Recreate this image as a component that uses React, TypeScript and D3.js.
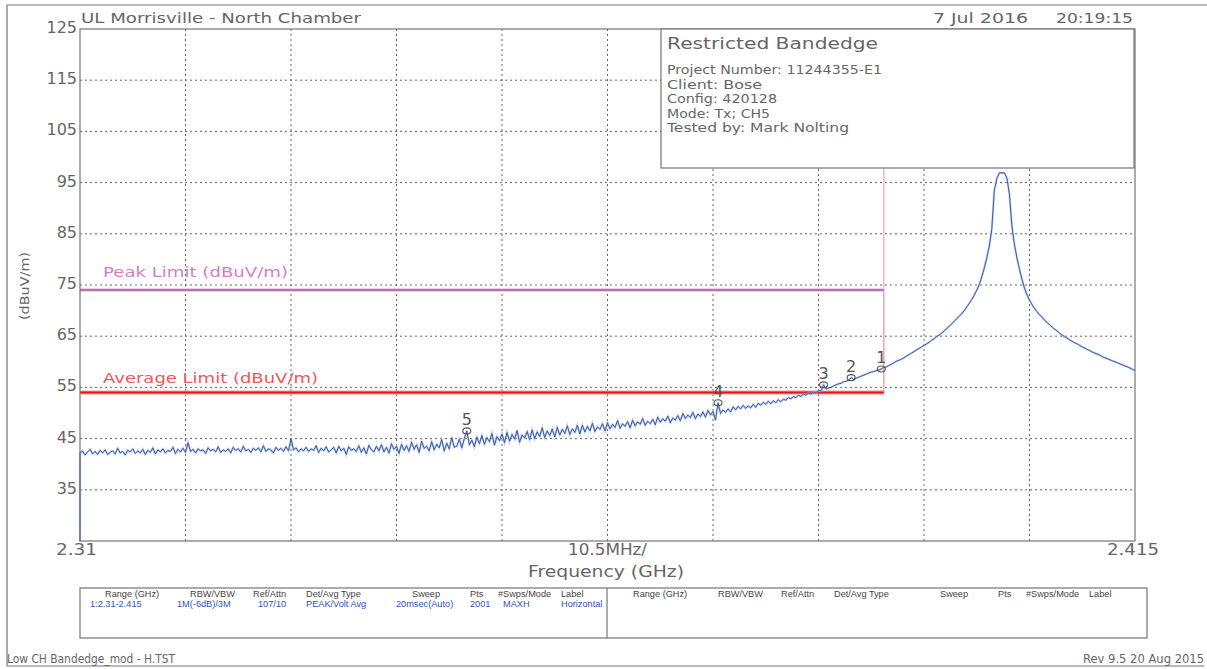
import React from "react";
import * as d3 from "d3";

// ---- Sweep data (MHz / dBuV/m) ----
const sweepStartMHz = 2310;
const sweepStopMHz = 2415;
const sweepStepMHz = 0.25;
const sweepStartLevel = 25; // first sample of the sweep sits at the floor
const traceLevels = [
  42.1, 42.6, 41.8, 42.4, 42.9, 42.0, 42.5, 41.9, 42.7, 42.2,
  42.8, 41.9, 42.3, 42.6, 42.0, 43.1, 42.2, 42.5, 41.8, 42.7,
  42.4, 43.0, 42.1, 42.6, 42.2, 42.9, 41.9, 42.7, 42.3, 43.2,
  42.0, 42.8, 42.4, 43.0, 42.2, 42.7, 42.5, 43.3, 42.1, 42.9,
  42.4, 43.1, 42.3, 44.2, 42.5, 42.9, 42.2, 43.0, 42.6, 42.8,
  42.1, 43.2, 42.6, 42.9, 42.4, 43.4, 42.3, 42.8, 42.5, 43.0,
  42.2, 43.3, 42.7, 43.0, 42.4, 43.5, 42.6, 42.9, 42.3, 43.1,
  42.7, 43.2, 42.4, 43.6, 42.5, 43.0, 42.8, 42.2, 43.3, 42.7,
  43.1, 42.5, 43.4, 42.6, 45.0, 42.8, 43.2, 42.4, 43.0, 42.6,
  43.3, 42.5, 43.0, 42.7, 43.6, 42.3, 43.1, 42.6, 43.4, 42.4,
  42.8, 43.3, 42.2, 43.5, 42.6, 43.1, 41.9, 43.4, 42.7, 43.0,
  42.5, 43.6, 42.3, 43.2, 42.0, 43.7, 42.8, 42.4, 43.5, 42.6,
  43.8, 42.4, 43.3, 42.2, 44.0, 42.9, 43.5, 42.1, 43.9, 42.7,
  43.6, 42.5, 44.3, 42.9, 43.8, 42.3, 44.5, 43.1, 43.5, 42.6,
  44.4, 42.8, 43.9, 43.2, 44.8, 42.6, 44.1, 43.0, 45.2, 43.3,
  43.5, 44.9, 43.2, 45.0, 46.5, 43.8, 44.7, 43.4, 45.3, 44.0,
  45.6, 43.9, 45.2, 44.4, 46.0, 43.7, 45.4, 44.6, 45.9, 44.2,
  46.2, 44.5, 45.8, 44.9, 46.6, 44.3, 45.7, 45.1, 46.4, 44.8,
  46.7, 45.0, 46.3, 45.4, 47.1, 45.2, 46.5, 45.6, 46.9, 45.3,
  47.2, 45.7, 46.8, 46.0, 47.5, 45.8, 46.9, 46.2, 47.6, 45.9,
  47.6, 46.3, 47.4, 46.5, 48.0, 46.4, 47.3, 46.8, 47.9, 46.5,
  48.1, 46.9, 47.8, 47.2, 48.5, 47.0, 47.9, 47.4, 48.3, 47.1,
  48.6, 47.5, 48.3, 47.8, 48.9, 47.6, 48.4, 47.9, 48.8, 47.7,
  49.2, 48.2, 48.9, 48.4, 49.4, 48.1, 49.0, 48.6, 49.5, 48.5,
  49.9, 48.9, 49.6, 49.1, 50.1, 48.9, 49.8, 49.3, 50.2, 49.2,
  50.5, 49.6, 50.3, 48.6, 52.0, 49.9, 50.6, 50.1, 50.8, 50.2,
  51.2, 50.6, 51.3, 50.8, 51.5, 50.9, 51.4, 51.0, 51.7, 51.1,
  51.9, 51.5, 52.1, 51.7, 52.3, 51.8, 52.4, 52.0, 52.6, 52.2,
  52.7, 52.5, 53.0, 52.8, 53.2, 53.0, 53.5, 53.2, 53.7, 53.5,
  53.9, 53.7, 54.1, 54.0, 54.4, 54.3, 55.5, 54.7, 54.9, 55.0,
  55.3, 55.5, 55.7, 55.8, 56.1, 56.2, 56.4, 56.9, 56.6, 56.8,
  57.0, 57.2, 57.4, 57.6, 57.8, 58.0, 58.1, 58.3, 58.4, 58.6,
  58.9, 59.0, 59.3, 59.5, 59.8, 60.1, 60.3, 60.5, 60.8, 61.1,
  61.4, 61.7, 62.0, 62.3, 62.6, 62.9, 63.2, 63.5, 63.8, 64.2,
  64.5, 64.9, 65.2, 65.6, 66.0, 66.5, 66.9, 67.4, 67.9, 68.4,
  68.9, 69.4, 70.0, 70.7, 71.4, 72.2, 73.0, 74.0, 75.1, 76.6,
  78.3, 80.3, 82.6, 86.0, 93.5, 95.8, 96.9, 96.9, 96.9, 95.9,
  92.8, 86.5, 82.9, 80.3, 78.1, 76.1, 74.4, 73.1, 72.0, 71.2,
  70.4, 69.8, 69.2, 68.7, 68.1, 67.7, 67.2, 66.8, 66.4, 66.0,
  65.6, 65.2, 64.9, 64.6, 64.3, 64.0, 63.7, 63.5, 63.2, 62.9,
  62.7, 62.4, 62.2, 61.9, 61.7, 61.5, 61.3, 61.0, 60.8, 60.6,
  60.4, 60.2, 60.0, 59.8, 59.6, 59.4, 59.2, 59.0, 58.8, 58.5,
  58.3,
];

// ---- Markers ----
const markerIds = ["1", "2", "3", "4", "5"];
const markerFreqsMHz = [2389.75, 2386.75, 2384.0, 2373.5, 2348.5];
const markerLevels = [58.6, 56.9, 55.5, 52.0, 46.5];

// ---- Limits ----
const bandEdgeMHz = 2390;
const peakLimit = 74;
const averageLimit = 54;
const peakLimitLabel = "Peak Limit (dBuV/m)";
const averageLimitLabel = "Average Limit (dBuV/m)";

// ---- Axes ----
const yMin = 25;
const yMax = 125;
const yTickLabels = [125, 115, 105, 95, 85, 75, 65, 55, 45, 35];
const xDivisions = 10;
const xStartLabel = "2.31";
const xStopLabel = "2.415";
const xSpanLabel = "10.5MHz/";
const xAxisTitle = "Frequency (GHz)";
const yAxisTitle = "(dBuV/m)";

// ---- Header / info / footer text ----
const siteTitle = "UL Morrisville - North Chamber";
const runDate = "7 Jul 2016";
const runTime = "20:19:15";
const infoTitle = "Restricted Bandedge";
const infoLines = [
  "Project Number: 11244355-E1",
  "Client: Bose",
  "Config: 420128",
  "Mode: Tx; CH5",
  "Tested by: Mark Nolting",
];
const tableHeaders = ["Range (GHz)", "RBW/VBW", "Ref/Attn", "Det/Avg Type", "Sweep", "Pts", "#Swps/Mode", "Label"];
const tableValues = ["1:2.31-2.415", "1M(-6dB)/3M", "107/10", "PEAK/Volt Avg", "20msec(Auto)", "2001", "MAXH", "Horizontal"];
const footerLeft = "Low CH Bandedge_mod - H.TST";
const footerRight = "Rev 9.5 20 Aug 2015";

// ---- Layout ----
const W = 1207;
const H = 669;
const plot = { left: 80, right: 1135, top: 29, bottom: 541 };
const FONT = "'DejaVu Sans', sans-serif";
const INK = "#666";
const FRAME = "#757575";
const TRACE = "#2d4f9e";
const TABLE_FONT = "'Liberation Sans', sans-serif";

const headerCols = [105, 190, 253, 306, 412, 470, 498, 561];
const valueCols = [90, 177, 258, 306, 396, 470, 503, 561];
const tableRightShift = 528;
const infoLineLengths = [215, 95, 110, 103, 182];

export default function App() {
  const x = d3.scaleLinear().domain([sweepStartMHz, sweepStopMHz]).range([plot.left, plot.right]);
  const y = d3.scaleLinear().domain([yMin, yMax]).range([plot.bottom, plot.top]);

  const points: [number, number][] = [[sweepStartMHz, sweepStartLevel]];
  traceLevels.forEach((v, i) => points.push([sweepStartMHz + i * sweepStepMHz, v]));
  const line = d3
    .line<[number, number]>()
    .x((d) => x(d[0]))
    .y((d) => y(Math.max(yMin, d[1])));
  const tracePath = line(points) || "";

  const xStep = (sweepStopMHz - sweepStartMHz) / xDivisions;
  const xGrid = d3.range(1, xDivisions).map((i) => sweepStartMHz + i * xStep);
  const yGrid = yTickLabels.filter((v) => v !== yMax);

  const xe = x(bandEdgeMHz);

  return (
    <svg
      width={W}
      height={H}
      viewBox={`0 0 ${W} ${H}`}
      style={{ position: "absolute", left: 0, top: 0, background: "#fff" }}
      fontFamily={FONT}
    >
      <rect x={0} y={0} width={W} height={H} fill="#fff" />
      {/* page frame */}
      <path d={`M7,666 V5 H1207 M7,666 H1204`} fill="none" stroke={FRAME} strokeWidth={1.2} />

      {/* header */}
      <text x={81} y={22.5} fontSize={14} fill={INK} textLength={280} lengthAdjust="spacingAndGlyphs">
        {siteTitle}
      </text>
      <text x={933} y={22.5} fontSize={14} fill={INK} textLength={95} lengthAdjust="spacingAndGlyphs">
        {runDate}
      </text>
      <text x={1056} y={22.5} fontSize={14} fill={INK} textLength={77} lengthAdjust="spacingAndGlyphs">
        {runTime}
      </text>

      {/* grid */}
      <g stroke="#666" strokeWidth={1} strokeDasharray="2,3">
        {xGrid.map((f) => (
          <line key={`gx${f}`} x1={x(f)} x2={x(f)} y1={plot.top} y2={plot.bottom} />
        ))}
        {yGrid.map((v) => (
          <line key={`gy${v}`} x1={plot.left} x2={plot.right} y1={y(v)} y2={y(v)} />
        ))}
      </g>

      {/* y tick labels */}
      {yTickLabels.map((v) => (
        <text key={`yt${v}`} x={77} y={y(v) + 4} fontSize={16} fill={INK} textAnchor="end">
          {v}
        </text>
      ))}

      {/* y axis title */}
      <text
        transform={`translate(29,${286}) rotate(-90)`}
        fontSize={13}
        fill={INK}
        textAnchor="middle"
        textLength={68}
        lengthAdjust="spacingAndGlyphs"
      >
        {yAxisTitle}
      </text>

      {/* x labels */}
      <text x={56} y={555} fontSize={16} fill={INK} textLength={41} lengthAdjust="spacingAndGlyphs">
        {xStartLabel}
      </text>
      <text x={1107} y={555} fontSize={16} fill={INK} textLength={52} lengthAdjust="spacingAndGlyphs">
        {xStopLabel}
      </text>
      <text x={568} y={555} fontSize={16} fill={INK} textLength={79} lengthAdjust="spacingAndGlyphs">
        {xSpanLabel}
      </text>
      <text x={528} y={577} fontSize={16} fill={INK} textLength={156} lengthAdjust="spacingAndGlyphs">
        {xAxisTitle}
      </text>

      {/* limit lines */}
      <line x1={xe} x2={xe} y1={plot.top} y2={y(peakLimit)} stroke="#e9b6df" strokeWidth={1.5} />
      <line x1={xe} x2={xe} y1={y(peakLimit)} y2={y(averageLimit)} stroke="#f5a3aa" strokeWidth={1.5} />
      <line x1={plot.left} x2={xe} y1={y(peakLimit)} y2={y(peakLimit)} stroke="#e7c2e2" strokeWidth={3.5} />
      <line x1={plot.left} x2={xe} y1={y(peakLimit)} y2={y(peakLimit)} stroke="#a8509a" strokeWidth={1.5} />
      <line x1={plot.left} x2={xe} y1={y(averageLimit)} y2={y(averageLimit)} stroke="#f39a9a" strokeWidth={4} />
      <line x1={plot.left} x2={xe} y1={y(averageLimit)} y2={y(averageLimit)} stroke="#e4171d" strokeWidth={2} />
      <text x={103} y={277} fontSize={14} fill="#d37fc4" textLength={185} lengthAdjust="spacingAndGlyphs">
        {peakLimitLabel}
      </text>
      <text x={103} y={383} fontSize={14} fill="#f0565a" textLength={215} lengthAdjust="spacingAndGlyphs">
        {averageLimitLabel}
      </text>

      {/* trace */}
      <path d={tracePath} fill="none" stroke="#a7bbe4" strokeWidth={2.2} strokeOpacity={0.7} />
      <path d={tracePath} fill="none" stroke={TRACE} strokeWidth={0.9} />

      {/* markers */}
      {markerIds.map((id, i) => {
        const cx = x(markerFreqsMHz[i]);
        const cy = y(markerLevels[i]);
        return (
          <g key={`m${id}`}>
            <ellipse cx={cx} cy={cy} rx={4} ry={3} fill="none" stroke="#555" strokeWidth={1.1} />
            <text x={cx} y={cy - 6} fontSize={16} fill="#555" textAnchor="middle">
              {id}
            </text>
          </g>
        );
      })}

      {/* plot frame */}
      <rect
        x={plot.left}
        y={plot.top}
        width={plot.right - plot.left}
        height={plot.bottom - plot.top}
        fill="none"
        stroke={FRAME}
        strokeWidth={1.2}
      />

      {/* info box */}
      <rect x={661} y={29} width={473} height={139} fill="#fff" stroke={FRAME} strokeWidth={1.2} />
      <text x={667} y={49} fontSize={15} fill={INK} textLength={211} lengthAdjust="spacingAndGlyphs">
        {infoTitle}
      </text>
      {infoLines.map((t, i) => (
        <text
          key={`il${i}`}
          x={667}
          y={74 + i * 14.6}
          fontSize={12}
          fill={INK}
          textLength={infoLineLengths[i]}
          lengthAdjust="spacingAndGlyphs"
        >
          {t}
        </text>
      ))}

      {/* settings table */}
      <rect x={80} y={588} width={1067} height={50} fill="none" stroke={FRAME} strokeWidth={1.2} />
      <line x1={607} x2={607} y1={588} y2={638} stroke={FRAME} strokeWidth={1.2} />
      {tableHeaders.map((h, i) => (
        <g key={`th${i}`}>
          <text x={headerCols[i]} y={597} fontSize={9.2} fill="#444" fontFamily={TABLE_FONT}>
            {h}
          </text>
          <text x={headerCols[i] + tableRightShift} y={597} fontSize={9.2} fill="#444" fontFamily={TABLE_FONT}>
            {h}
          </text>
        </g>
      ))}
      {tableValues.map((v, i) => (
        <text key={`tv${i}`} x={valueCols[i]} y={606.5} fontSize={9.2} fill="#2d55c0" fontFamily={TABLE_FONT}>
          {v}
        </text>
      ))}

      {/* footer */}
      <text x={7} y={663} fontSize={11.5} fill={INK} textLength={168} lengthAdjust="spacingAndGlyphs">
        {footerLeft}
      </text>
      <text x={1083} y={663} fontSize={11.5} fill={INK} textLength={121} lengthAdjust="spacingAndGlyphs">
        {footerRight}
      </text>
    </svg>
  );
}
